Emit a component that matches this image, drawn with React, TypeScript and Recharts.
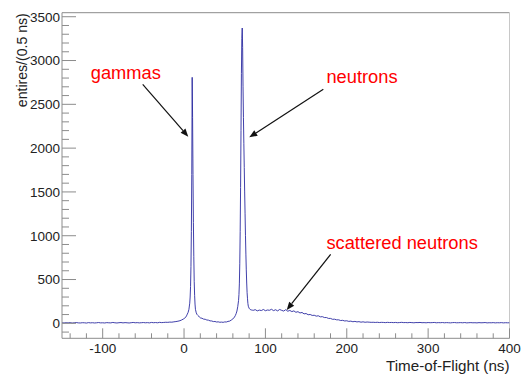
import React from 'react';
import { LineChart, Line, XAxis, YAxis, ReferenceLine, ReferenceDot, Label } from 'recharts';

// Time-of-flight histogram (entries per 0.5 ns)
const tofBaseline = [-150, -147.5, -145, -142.5, -140, -137.5, -135, -132.5, -130, -127.5, -125, -122.5, -120, -117.5, -115, -112.5, -110, -107.5, -105, -102.5, -100, -97.5, -95, -92.5, -90, -87.5, -85, -82.5, -80, -77.5, -75, -72.5, -70, -67.5, -65, -62.5, -60, -57.5, -55, -52.5, -50, -47.5, -45, -42.5, -40, -37.5, -35, -32.5, -30, -27.5, -25, -22.5, -20, -17.5, -15, -12.5, -10, -7.5, -5];
const entriesBaseline = [6, 4, 7, 5, 8, 3, 6, 9, 5, 4, 7, 6, 3, 8, 5, 7, 4, 6, 9, 5, 6, 4, 8, 6, 5, 10, 6, 4, 7, 9, 5, 8, 6, 4, 7, 10, 6, 8, 5, 7, 9, 6, 8, 5, 10, 7, 9, 6, 11, 8, 10, 12, 11, 14, 13, 17, 20, 24, 30];

const tofGamma = [-3, -1, 1, 2, 3, 4, 5, 6, 7, 7.5, 8, 8.5, 9, 9.5, 10, 10.5, 11, 11.5, 12, 12.5, 13, 13.5, 14, 15, 16, 17, 18];
const entriesGamma = [38, 48, 60, 70, 85, 105, 125, 160, 230, 300, 420, 650, 1050, 1700, 2808, 2350, 1700, 1150, 760, 480, 320, 220, 160, 120, 100, 90, 82];

const tofValley = [19, 20, 22, 24, 26, 28, 30, 32, 34, 36, 38, 40, 42, 44, 46, 48, 50, 52, 54, 56, 58, 60, 61, 62, 63, 64, 65, 66, 67, 67.5, 68, 68.5, 69, 69.5];
const entriesValley = [70, 62, 58, 48, 46, 38, 36, 28, 27, 20, 21, 15, 17, 12, 14, 11, 16, 15, 22, 25, 37, 50, 60, 72, 88, 110, 140, 190, 260, 330, 450, 680, 1050, 1550];

const tofNeutron = [70, 70.5, 71, 71.5, 72, 72.5, 73, 73.5, 74, 74.5, 75, 75.5, 76, 76.5, 77, 77.5, 78, 78.5, 79, 80, 81, 82, 83, 84];
const entriesNeutron = [2200, 2850, 3250, 3371, 3150, 2700, 2350, 2050, 1780, 1500, 1250, 1000, 790, 610, 460, 350, 280, 225, 195, 172, 160, 155, 152, 150];

const tofScattered = [85, 87.5, 90, 92.5, 95, 97.5, 100, 102.5, 105, 107.5, 110, 112.5, 115, 117.5, 120, 122.5, 125, 127.5, 130, 132.5, 135, 137.5, 140, 142.5, 145, 147.5, 150, 152.5, 155, 157.5, 160, 162.5, 165, 167.5, 170, 172.5, 175, 177.5, 180, 182.5, 185, 187.5, 190, 192.5, 195, 197.5, 200, 202.5, 205, 207.5, 210, 212.5, 215, 217.5, 220, 222.5, 225];
const entriesScattered = [148, 156, 142, 151, 146, 158, 144, 152, 149, 160, 145, 155, 142, 158, 148, 140, 156, 138, 147, 134, 142, 126, 133, 118, 124, 108, 112, 98, 101, 90, 92, 82, 86, 74, 76, 66, 66, 56, 56, 46, 47, 40, 40, 32, 34, 27, 29, 22, 25, 18, 22, 16, 19, 13, 17, 12, 15];

const tofTail = [227.5, 230, 232.5, 235, 237.5, 240, 242.5, 245, 247.5, 250, 252.5, 255, 257.5, 260, 262.5, 265, 267.5, 270, 272.5, 275, 277.5, 280, 282.5, 285, 287.5, 290, 292.5, 295, 297.5, 300, 302.5, 305, 307.5, 310, 312.5, 315, 317.5, 320, 322.5, 325, 327.5, 330, 332.5, 335, 337.5, 340, 342.5, 345, 347.5, 350, 352.5, 355, 357.5, 360, 362.5, 365, 367.5, 370, 372.5, 375, 377.5, 380, 382.5, 385, 387.5, 390, 392.5, 395, 397.5, 400];
const entriesTail = [13, 11, 12, 10, 12, 9, 11, 10, 8, 11, 9, 10, 8, 10, 7, 9, 11, 8, 9, 7, 10, 8, 6, 9, 8, 10, 7, 8, 6, 9, 7, 8, 10, 6, 8, 7, 9, 6, 8, 7, 5, 8, 9, 6, 7, 8, 6, 9, 5, 7, 8, 6, 7, 5, 8, 6, 7, 9, 5, 7, 6, 8, 5, 7, 6, 8, 5, 7, 6, 6];

const xMajorTicks = [-100, 0, 100, 200, 300, 400];
const xMinorTicks = [-140, -120, -80, -60, -40, -20, 20, 40, 60, 80, 120, 140, 160, 180, 220, 240, 260, 280, 320, 340, 360, 380];
const yMajorTicks = [0, 500, 1000, 1500, 2000, 2500, 3000, 3500];
const yMinorTicks = [-100, 100, 200, 300, 400, 600, 700, 800, 900, 1100, 1200, 1300, 1400, 1600, 1700, 1800, 1900, 2100, 2200, 2300, 2400, 2600, 2700, 2800, 2900, 3100, 3200, 3300, 3400];

const annotationTexts = [
  { text: 'gammas', x: -114.7, y: 2788 },
  { text: 'neutrons', x: 175, y: 2742 },
  { text: 'scattered neutrons', x: 175, y: 848 },
];
const annotationArrows = [
  { from: { x: -50.8, y: 2728 }, to: { x: 5.2, y: 2130 } },
  { from: { x: 171.2, y: 2671 }, to: { x: 80.2, y: 2123 } },
  { from: { x: 180.2, y: 788 }, to: { x: 126.2, y: 152 } },
];

const X_DOMAIN: [number, number] = [-150, 400];
const Y_DOMAIN: [number, number] = [-171, 3546];

const regions: [number[], number[]][] = [
  [tofBaseline, entriesBaseline],
  [tofGamma, entriesGamma],
  [tofValley, entriesValley],
  [tofNeutron, entriesNeutron],
  [tofScattered, entriesScattered],
  [tofTail, entriesTail],
];
const data = regions.flatMap(([xs, ys]) => xs.map((t, i) => ({ tof: t, entries: ys[i] })));

const FONT = '"Liberation Sans", Arial, Helvetica, sans-serif';
const AXIS_COLOR = '#8c8c8c';

const XTick = (props: any) => {
  const { x, y, payload } = props;
  const v = payload.value;
  const major = xMajorTicks.includes(v);
  return (
    <g>
      <line x1={x} x2={x} y1={y} y2={y - (major ? 10 : 5)} stroke={AXIS_COLOR} strokeWidth={1} />
      {major && (
        <text x={x} y={y + 15} textAnchor="middle" fontSize={13.5} fill="#222" fontFamily={FONT}>
          {v}
        </text>
      )}
    </g>
  );
};

const YTick = (props: any) => {
  const { x, y, payload } = props;
  const v = payload.value;
  const major = yMajorTicks.includes(v);
  return (
    <g>
      <line x1={x} x2={x + (major ? 14 : 7)} y1={y} y2={y} stroke={AXIS_COLOR} strokeWidth={1} />
      {major && (
        <text x={x - 2} y={y + 4.8} textAnchor="end" fontSize={13.5} fill="#222" fontFamily={FONT}>
          {v}
        </text>
      )}
    </g>
  );
};

const XTitle = (props: any) => {
  const vb = props.viewBox || {};
  return (
    <text x={vb.x + vb.width} y={vb.y + 32.7} textAnchor="end" fontSize={15.2} fill="#222" fontFamily={FONT}>
      Time-of-Flight (ns)
    </text>
  );
};

const YTitle = (props: any) => {
  const vb = props.viewBox || {};
  const x = 26.7;
  const y = vb.y + 0.5;
  return (
    <text x={x} y={y} transform={`rotate(-90 ${x} ${y})`} textAnchor="end" fontSize={14.1} fill="#222" fontFamily={FONT}>
      entires/(0.5 ns)
    </text>
  );
};

const Arrow = (props: any) => {
  const { x1, y1, x2, y2 } = props;
  const dx = x2 - x1;
  const dy = y2 - y1;
  const len = Math.sqrt(dx * dx + dy * dy) || 1;
  const ux = dx / len;
  const uy = dy / len;
  const hl = 8;
  const hw = 3.2;
  const bx = x2 - ux * hl;
  const by = y2 - uy * hl;
  const pts = `${x2},${y2} ${bx - uy * hw},${by + ux * hw} ${bx + uy * hw},${by - ux * hw}`;
  return (
    <g>
      <line x1={x1} y1={y1} x2={bx} y2={by} stroke="#111" strokeWidth={1.2} />
      <polygon points={pts} fill="#111" />
    </g>
  );
};

const makeTextShape = (text: string) => (props: any) => (
  <text x={props.cx} y={props.cy} fontSize={18.3} fill="#ff0000" fontFamily={FONT}>
    {text}
  </text>
);

export default function App() {
  return (
    <div style={{ position: 'absolute', left: 0, top: 0, background: '#fff' }}>
      <LineChart
        width={527}
        height={374}
        data={data}
        margin={{ top: 12.7, right: 17.5, bottom: 0, left: 0 }}
      >
        <XAxis
          dataKey="tof"
          type="number"
          domain={X_DOMAIN}
          allowDataOverflow
          ticks={[...xMajorTicks, ...xMinorTicks].sort((a, b) => a - b)}
          interval={0}
          tick={<XTick />}
          tickLine={false}
          tickSize={0}
          tickMargin={0}
          height={35.7}
          axisLine={{ stroke: AXIS_COLOR }}
        >
          <Label content={<XTitle />} />
        </XAxis>
        <YAxis
          type="number"
          domain={Y_DOMAIN}
          allowDataOverflow
          ticks={[...yMajorTicks, ...yMinorTicks].sort((a, b) => a - b)}
          interval={0}
          tick={<YTick />}
          tickLine={false}
          tickSize={0}
          tickMargin={0}
          width={62}
          axisLine={{ stroke: AXIS_COLOR }}
        >
          <Label content={<YTitle />} />
        </YAxis>
        <ReferenceLine y={Y_DOMAIN[1]} stroke={AXIS_COLOR} ifOverflow="visible" />
        <ReferenceLine x={X_DOMAIN[1]} stroke="#c8c8c8" ifOverflow="visible" />
        <Line
          type="linear"
          dataKey="entries"
          stroke="#2a2aa0"
          strokeWidth={0.9}
          dot={false}
          isAnimationActive={false}
        />
        {annotationArrows.map((a, i) => (
          <ReferenceLine
            key={`arrow-${i}`}
            segment={[a.from, a.to]}
            ifOverflow="visible"
            shape={<Arrow />}
          />
        ))}
        {annotationTexts.map((t, i) => (
          <ReferenceDot
            key={`txt-${i}`}
            x={t.x}
            y={t.y}
            r={0}
            ifOverflow="visible"
            shape={makeTextShape(t.text)}
          />
        ))}
      </LineChart>
    </div>
  );
}
